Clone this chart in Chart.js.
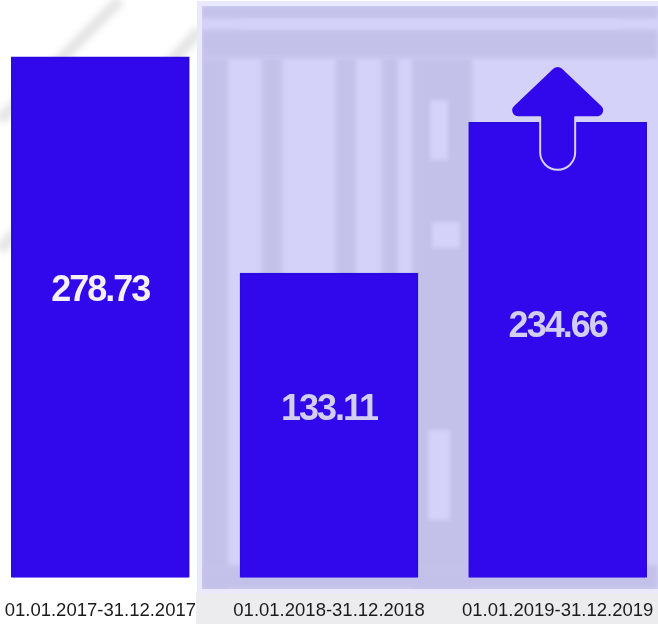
<!DOCTYPE html>
<html lang="de">
<head>
<meta charset="UTF-8">
<title>Zeiträume</title>
<script src="https://cdn.jsdelivr.net/npm/chart.js"></script>
<style>
  html, body { margin: 0; padding: 0; background: #ffffff; overflow: hidden; }
  #wrap { width: 658px; height: 624px; }
</style>
</head>
<body>
<div id="wrap"><canvas id="chart" width="658" height="624"></canvas></div>
<script>
// Daten
const periods = ['01.01.2017-31.12.2017', '01.01.2018-31.12.2018', '01.01.2019-31.12.2019'];
const values = [278.73, 133.11, 234.66];
const valueColors = ['#f3f0f8', '#d2cef2', '#d2cef2'];
const arrowOn = [false, false, true];

const BAR = '#3108ec';

// x-Achse etwas über den Canvasrand hinaus strecken
const widenPlugin = {
  id: 'widen',
  afterLayout(chart) {
    const x = chart.scales.x;
    x.left = -14;
    x.right = 672;
    x.width = x.right - x.left;
    x.configure();
  }
};

// heller Hintergrundkasten (mit angedeutetem Gebäude-Wasserzeichen)
const panelPlugin = {
  id: 'panel',
  beforeDraw(chart) {
    const c = chart.ctx;
    c.save();
    // graue Dachlinien links
    c.filter = 'blur(3px)';
    c.strokeStyle = '#e6e6e6';
    c.lineWidth = 12;
    c.beginPath();
    c.moveTo(0, 250); c.lineTo(200, 30);
    c.moveTo(0, 120); c.lineTo(120, 0);
    c.stroke();
    c.filter = 'none';
    c.fillStyle = '#ececee';
    c.fillRect(196, 592, 462, 32);
    c.fillStyle = '#e9e8fc';
    c.fillRect(197, 1, 461, 592);
    c.fillStyle = '#d4d2f8';
    c.fillRect(202, 6, 456, 583);
    c.beginPath();
    c.rect(202, 6, 456, 583);
    c.clip();
    c.filter = 'blur(2px)';
    c.fillStyle = '#c3c1e9';
    c.fillRect(202, 6, 456, 12);
    c.fillRect(202, 30, 456, 28);
    c.fillRect(202, 58, 26, 531);
    c.fillRect(262, 58, 20, 240);
    c.fillRect(336, 58, 20, 240);
    c.fillRect(382, 58, 16, 240);
    c.fillRect(412, 58, 60, 531);
    c.fillRect(202, 565, 456, 24);
    c.fillStyle = '#d4d2f8';
    c.fillRect(240, 20, 380, 8);
    c.fillRect(430, 100, 18, 60);
    c.fillRect(432, 222, 28, 26);
    c.fillRect(428, 430, 22, 90);
    c.restore();
  }
};

// Werte in den Balken + Pfeil
const labelPlugin = {
  id: 'labels',
  afterDatasetsDraw(chart) {
    const c = chart.ctx;
    const meta = chart.getDatasetMeta(0);
    meta.data.forEach((el, i) => {
      if (arrowOn[i]) drawArrow(c, el.x, el.y);
      const y = el.base - (el.base - el.y) * 0.55;
      c.save();
      c.font = 'bold 36px "Liberation Sans", Arial, sans-serif';
      c.letterSpacing = '-2px';
      c.fillStyle = valueColors[i];
      c.textAlign = 'center';
      c.textBaseline = 'middle';
      c.fillText(values[i].toFixed(2), el.x, y);
      c.restore();
    });
  }
};

function drawArrow(c, cx, top) {
  const tip = top - 59, head = top - 5, hw = 57, sw = 17.5, r = 7;
  c.save();
  c.beginPath();
  c.moveTo(cx - sw, head);
  c.arcTo(cx - hw, head, cx, tip, r);
  c.arcTo(cx, tip, cx + hw, head, r);
  c.arcTo(cx + hw, head, cx + sw, head, r);
  c.lineTo(cx + sw, head);
  c.lineTo(cx + sw, top + 30);
  c.arc(cx, top + 30, sw, 0, Math.PI);
  c.closePath();
  c.fillStyle = BAR;
  c.fill();
  c.lineWidth = 2;
  c.lineJoin = 'round';
  c.strokeStyle = '#d6d2f4';
  c.stroke();
  c.restore();
}

const chart = new Chart(document.getElementById('chart'), {
  type: 'bar',
  data: {
    labels: periods,
    datasets: [{
      data: values,
      base: -72,
      backgroundColor: BAR,
      borderColor: '#2a0ade',
      borderWidth: 2,
      barThickness: 178
    }]
  },
  options: {
    responsive: false,
    animation: false,
    layout: { autoPadding: false, padding: { top: 0, left: 0, right: 0, bottom: -20 } },
    plugins: { legend: { display: false }, tooltip: { enabled: false } },
    scales: {
      x: {
        grid: { display: false, drawTicks: false },
        border: { display: false },
        afterFit(scale) { scale.paddingLeft = 0; scale.paddingRight = 0; },
        ticks: {
          color: '#1b1b1b',
          padding: 22,
          maxRotation: 0,
          autoSkip: false,
          font: { family: '"Liberation Sans", Arial, sans-serif', size: 18.5 }
        }
      },
      y: { display: false, min: -72, max: 317 }
    }
  },
  plugins: [widenPlugin, panelPlugin, labelPlugin]
});
</script>
</body>
</html>
